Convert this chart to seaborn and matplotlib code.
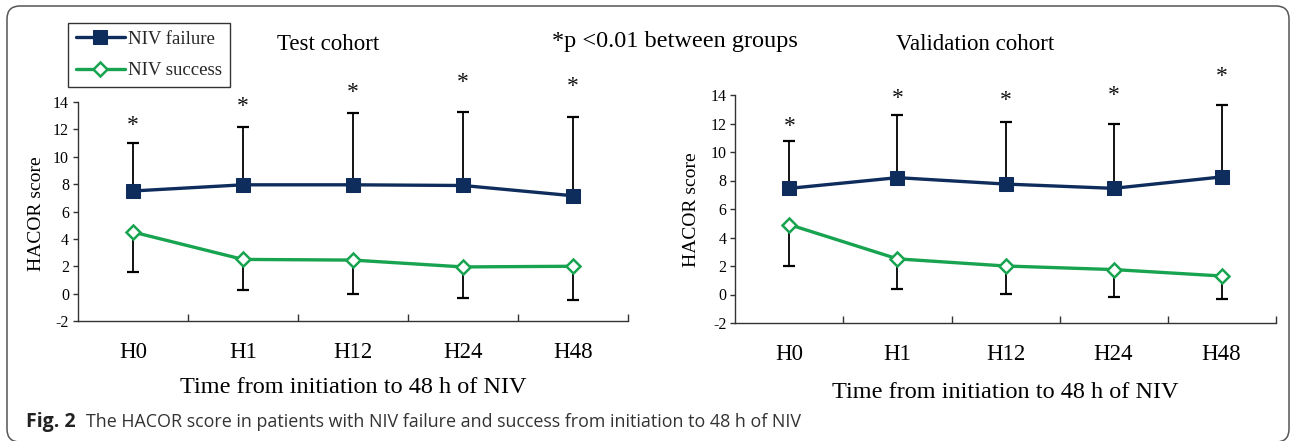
import matplotlib
matplotlib.use("Agg")
import matplotlib.pyplot as plt
import seaborn as sns
import pandas as pd
import numpy as np
from matplotlib.patches import FancyBboxPatch
from matplotlib.ticker import FixedLocator

# ---------------- data ----------------
times = ["H0", "H1", "H12", "H24", "H48"]
groups = ["NIV failure", "NIV success"]

test_fail_mean = [7.5, 7.95, 7.95, 7.9, 7.15]
test_fail_sd = [3.5, 4.25, 5.25, 5.4, 5.75]
test_succ_mean = [4.5, 2.5, 2.45, 1.95, 2.0]
test_succ_sd = [2.95, 2.25, 2.45, 2.3, 2.5]

val_fail_mean = [7.45, 8.2, 7.75, 7.45, 8.25]
val_fail_sd = [3.35, 4.4, 4.35, 4.55, 5.05]
val_succ_mean = [4.9, 2.5, 2.0, 1.75, 1.3]
val_succ_sd = [2.9, 2.1, 1.95, 1.9, 1.6]

# baseline height of the significance asterisks (data units)
test_star_y = [11.9, 13.3, 14.3, 15.0, 14.75]
val_star_y = [11.4, 13.4, 13.2, 13.55, 14.9]

yticks = [-2, 0, 2, 4, 6, 8, 10, 12, 14]

NAVY = "#0e2c5c"
GREEN = "#17a34f"

sns.set_theme(style="ticks")
plt.rcParams["font.family"] = ["Liberation Serif", "DejaVu Serif"]
plt.rcParams["axes.unicode_minus"] = False

W, H = 1290, 441
fig = plt.figure(figsize=(W / 100, H / 100), dpi=100)
fig.patch.set_facecolor("white")

ax1 = fig.add_axes([78 / W, 1 - 321 / H, 550 / W, 219 / H])
ax2 = fig.add_axes([735.5 / W, 1 - 323 / H, 540 / W, 228 / H])


def panel(ax, fm, fs, sm, ss, stars, xlabelpad):
    df = pd.DataFrame({
        "time": times * 2,
        "score": list(fm) + list(sm),
        "group": [groups[0]] * len(times) + [groups[1]] * len(times),
    })
    dfail = df[df.group == groups[0]]
    dsucc = df[df.group == groups[1]]
    sns.lineplot(data=dfail, x="time", y="score", sort=False, color=NAVY,
                 lw=2.4, marker="s", markersize=9.5, markerfacecolor=NAVY,
                 markeredgecolor=NAVY, label=groups[0], ax=ax, zorder=4)
    sns.lineplot(data=dsucc, x="time", y="score", sort=False, color=GREEN,
                 lw=2.4, marker="D", markersize=7.5, markerfacecolor="white",
                 markeredgecolor=GREEN, markeredgewidth=1.8,
                 label=groups[1], ax=ax, zorder=4)
    ax.errorbar(times, fm, yerr=[np.zeros(len(fs)), fs], fmt="none",
                ecolor="black", elinewidth=1.3, capsize=4.5, capthick=1.6,
                zorder=2)
    ax.errorbar(times, sm, yerr=[ss, np.zeros(len(ss))], fmt="none",
                ecolor="black", elinewidth=1.3, capsize=4.5, capthick=1.6,
                zorder=2)
    for t, y in zip(times, stars):
        ax.text(t, y, "*", ha="center", va="baseline", fontsize=17,
                color="#111111", clip_on=False)

    ax.set_xlim(-0.5, 4.5)
    ax.set_ylim(-2, 14)
    ax.set_yticks(yticks)
    ax.set_yticklabels([str(v) for v in yticks])
    ax.xaxis.set_minor_locator(FixedLocator([0.5, 1.5, 2.5, 3.5, 4.5]))
    ax.tick_params(axis="x", which="major", length=0, labelsize=16.5,
                   pad=15, colors="black")
    ax.tick_params(axis="x", which="minor", direction="in", length=5,
                   width=1, color="#333333")
    ax.tick_params(axis="y", direction="out", length=3.5, width=1,
                   labelsize=11.5, color="#333333", labelcolor="black", pad=3)
    for lab in ax.get_yticklabels():
        lab.set_family(["Liberation Serif", "DejaVu Serif"])
    for s in ["top", "right"]:
        ax.spines[s].set_visible(False)
    for s in ["left", "bottom"]:
        ax.spines[s].set_color("#333333")
        ax.spines[s].set_linewidth(1.0)
    ax.set_ylabel("HACOR score", fontsize=14, color="black")
    ax.set_xlabel("Time from initiation to 48 h of NIV", fontsize=17.5,
                  color="black", labelpad=xlabelpad)
    ax.grid(False)
    leg = ax.get_legend()
    if leg is not None:
        leg.remove()


panel(ax1, test_fail_mean, test_fail_sd, test_succ_mean, test_succ_sd,
      test_star_y, 10)
panel(ax2, val_fail_mean, val_fail_sd, val_succ_mean, val_succ_sd,
      val_star_y, 12)
ax1.yaxis.set_label_coords(-0.06, 0.49)
ax2.yaxis.set_label_coords(-0.066, 0.496)

handles, labels = ax1.get_legend_handles_labels()
fig.legend(handles, labels, loc="upper left",
           bbox_to_anchor=(68 / W, 1 - 23 / H), bbox_transform=fig.transFigure,
           borderaxespad=0, frameon=True, fancybox=False, framealpha=1,
           edgecolor="#333333", fontsize=13.5, handlelength=2.6,
           handletextpad=0.2, labelspacing=0.75, borderpad=0.42)
fig.legends[0].get_frame().set_linewidth(1.0)

fig.text(328 / W, 1 - 45 / H, "Test cohort", ha="center", va="center",
         fontsize=16.5, color="black")
fig.text(975 / W, 1 - 45 / H, "Validation cohort", ha="center", va="center",
         fontsize=16.5, color="black")
fig.text(675 / W, 1 - 41 / H, "*p <0.01 between groups", ha="center",
         va="center", fontsize=17.5, color="black")

fig.text(26 / W, 1 - 422 / H, "Fig. 2", ha="left", va="center",
         fontsize=14, fontweight="bold", family=["Open Sans", "DejaVu Sans"],
         color="#222222")
fig.text(86 / W, 1 - 422 / H,
         "The HACOR score in patients with NIV failure and success from initiation to 48 h of NIV",
         ha="left", va="center", fontsize=12.9,
         family=["Open Sans", "DejaVu Sans"], color="#333333")

frame = FancyBboxPatch((7 / 100, (H - 442) / 100), (1289 - 7) / 100,
                       (442 - 6) / 100,
                       boxstyle="round,pad=0,rounding_size=0.13",
                       transform=fig.dpi_scale_trans, facecolor="none",
                       edgecolor="#555555", linewidth=1.1, zorder=0)
fig.add_artist(frame)

fig.savefig("out.png", dpi=100)
